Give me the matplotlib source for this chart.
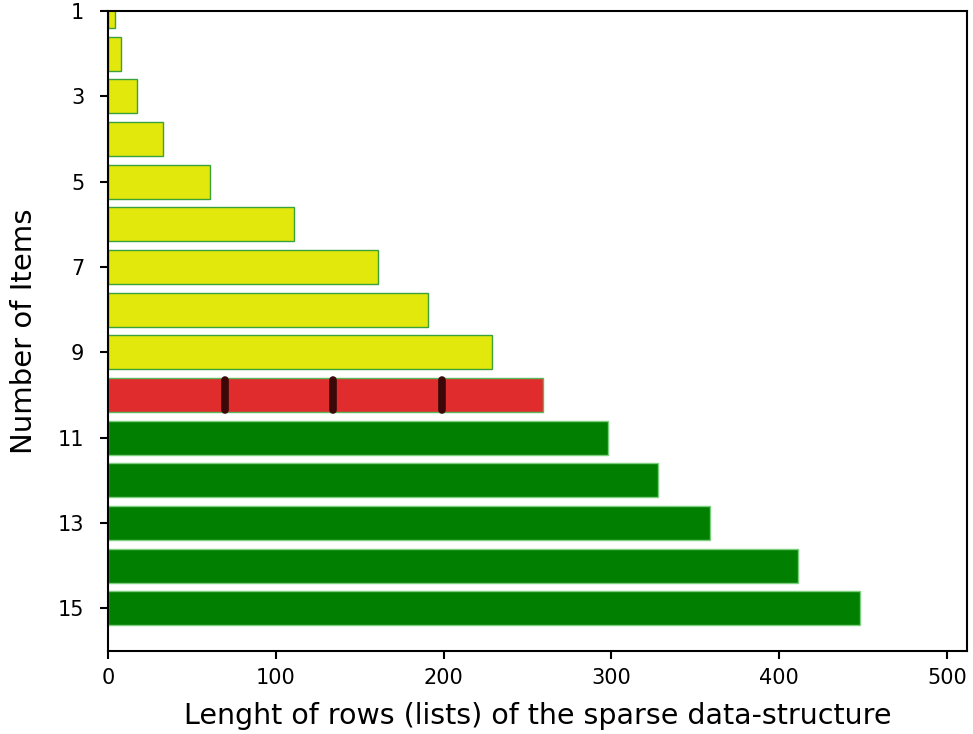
import matplotlib
matplotlib.use("Agg")
import matplotlib.pyplot as plt

items = list(range(1, 16))
row_lengths = [4, 8, 17, 33, 61, 111, 161, 191, 229, 259, 298, 328, 359, 411, 448]
status = ["short"] * 9 + ["split"] + ["long"] * 5
split_points = [70, 134, 199]

palette = {"short": "#e3e80c", "split": "#e02c2c", "long": "#007f00"}
edges = {"short": "#3aa23a", "split": "#5ab85a", "long": "#7ccf7c"}

fig = plt.figure(figsize=(9.73, 7.34), dpi=100)
ax = fig.add_axes([108 / 973, 1 - 651 / 734, (967 - 108) / 973, (651 - 11) / 734])

for y, w, s in zip(items, row_lengths, status):
    ax.barh(y, w, height=0.8, color=palette[s], edgecolor=edges[s], linewidth=1.0)

split_row = items[status.index("split")]
for xp in split_points:
    ax.plot([xp, xp], [split_row - 0.36, split_row + 0.36], color="#3a0808",
            linewidth=5.5, solid_capstyle="round")

ax.set_xlim(0, 512)
ax.set_ylim(16, 1)
ax.set_yticks(items[::2])
ax.set_xticks([0, 100, 200, 300, 400, 500])
ax.tick_params(labelsize=15, width=1.5, length=6)
ax.tick_params(axis="y", pad=11)
ax.tick_params(axis="x", pad=6)
for sp in ax.spines.values():
    sp.set_linewidth(1.5)

ax.set_xlabel("Lenght of rows (lists) of the sparse data-structure", fontsize=20.5, labelpad=10)
ax.set_ylabel("Number of Items", fontsize=21, labelpad=14)

fig.savefig("out.png", dpi=100)
